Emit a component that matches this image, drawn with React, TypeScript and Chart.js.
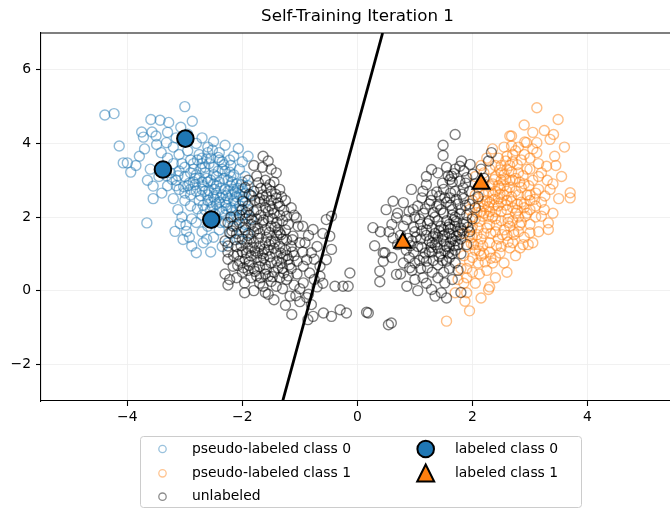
import React, { useEffect, useRef } from "react";
import { Chart, registerables } from "chart.js";
Chart.register(...registerables);

const chartTitle = "Self-Training Iteration 1";
const xTicks = [-4, -2, 0, 2, 4];
const yTicks = [-2, 0, 2, 4, 6];
const xRange = [-5.5, 5.435];
const yRange = [-3, 7];
const seriesNames = ["pseudo-labeled class 0", "pseudo-labeled class 1", "unlabeled", "labeled class 0", "labeled class 1"];

const labeled0 = [[-2.99, 4.13], [-3.38, 3.29], [-2.54, 1.93]];
const labeled1 = [[0.79, 1.3], [2.15, 2.9]];
const boundaryX = [-1.298, 0.439];
const boundaryY = [-3, 7];

const pseudo0 = [
  [-4.39,4.77],[-4.23,4.81],[-3.0,5.0],[-3.59,4.65],[-3.43,4.63],[-3.28,4.57],[-3.75,4.31],[-3.57,4.31],[-3.72,4.17],[-3.07,4.44],
  [-2.87,4.6],[-4.14,3.93],[-4.07,3.47],[-4.0,3.47],[-3.94,3.22],[-3.79,3.65],[-3.49,3.97],[-3.41,3.75],[-3.32,4.02],[-3.55,2.84],
  [-3.55,2.5],[-3.66,1.84],[-3.12,2.2],[-3.17,1.61],[-2.97,1.61],[-3.03,1.39],[-2.88,1.21],[-2.68,1.3],[-2.8,1.03],[-2.07,3.86],
  [-1.9,3.65],[-3.3,3.6],[-3.2,3.9],[-3.1,3.7],[-3.05,3.45],[-2.95,3.8],[-2.9,3.55],[-2.85,3.3],[-2.8,4.0],[-2.75,3.7],
  [-2.7,3.45],[-2.65,3.2],[-2.6,3.9],[-2.55,3.6],[-2.5,3.35],[-2.45,3.1],[-2.4,3.75],[-2.35,3.5],[-2.3,3.25],[-2.25,3.0],
  [-2.2,3.4],[-2.15,3.15],[-2.1,2.9],[-2.05,3.3],[-2.0,2.75],[-3.25,3.2],[-3.15,3.0],[-3.1,2.75],[-3.0,3.1],[-2.95,2.85],
  [-2.9,2.6],[-2.85,2.95],[-2.8,2.7],[-2.75,2.45],[-2.7,2.95],[-2.65,2.7],[-2.6,2.45],[-2.55,2.2],[-2.5,2.9],[-2.45,2.65],
  [-2.4,2.4],[-2.35,2.15],[-2.3,2.75],[-2.25,2.5],[-2.2,2.25],[-2.15,2.0],[-2.1,2.55],[-2.05,2.3],[-2.0,2.05],[-1.95,2.4],
  [-1.95,1.8],[-2.0,1.6],[-2.1,1.75],[-2.2,1.55],[-2.3,1.85],[-2.4,1.65],[-2.45,1.95],[-2.6,1.75],[-2.7,2.05],[-2.8,1.85],
  [-2.9,2.3],[-3.0,2.45],[-3.05,2.0],[-3.2,2.5],[-3.3,2.85],[-3.35,3.35],[-3.45,3.1],[-3.4,2.65],[-3.6,3.3],[-3.65,3.0],
  [-3.7,3.85],[-3.85,3.4],[-3.5,4.2],[-3.3,4.3],[-3.15,4.15],[-2.95,4.25],[-2.7,4.15],[-2.5,4.05],[-2.3,3.95],[-2.15,3.65],
  [-2.0,3.5],[-1.95,3.1],[-1.9,2.85],[-1.85,2.6],[-1.9,2.2],[-1.85,1.95],[-1.9,1.55],[-2.05,1.4],[-2.25,1.3],[-2.5,1.45],
  [-2.35,1.2],[-2.55,1.05],[-2.7,1.6],[-2.75,3.05],[-2.6,2.95],[-2.55,3.0],[-2.45,2.85],[-2.4,2.95],[-2.35,2.6],[-2.3,2.4],
  [-2.25,2.7],[-2.2,2.85],[-2.15,2.45],[-2.1,2.2],[-2.05,2.6],[-2.45,2.35],[-2.5,2.55],[-2.6,2.6],[-2.7,2.75],[-2.8,3.15],
  [-2.9,3.2],[-3.0,3.35],[-3.1,3.25],[-2.65,3.35],[-2.5,3.15],[-2.35,3.3],[-2.2,3.1],[-2.0,2.95],[-2.15,2.75],[-1.95,2.65],
  [-2.0,2.45],[-2.1,2.05],[-2.2,1.95],[-2.3,2.05],[-2.4,2.2],[-2.55,2.4],[-2.65,2.2],[-2.9,2.75],[-3.0,2.65],[-3.15,2.85],
  [-3.2,3.45],[-2.85,3.45],[-2.7,3.6],[-2.4,3.55],[-2.6,3.75],
  [-2.62,3.05],[-2.48,2.75],[-2.38,2.78],[-2.28,2.58],[-2.18,2.62],[-2.12,2.38],[-2.02,2.2],[-2.08,1.92],[-2.28,2.22],[-2.52,2.28],
  [-2.72,2.58],[-2.82,2.88],[-2.58,3.45],[-2.42,3.25],[-2.32,3.05],[-2.18,2.95],[-2.08,2.78],[-1.98,2.55],[-2.22,3.55],[-2.78,3.55],
  [-2.68,2.85],[-2.58,2.72],[-2.48,2.48],[-2.38,2.52],[-2.28,2.32],[-2.18,2.18],[-2.12,2.68],[-2.02,2.88],[-2.22,3.22],[-2.32,3.42],
  [-2.42,3.62],[-2.52,3.82],[-2.62,3.58],[-2.72,3.32],[-2.82,3.05],[-2.92,2.92],[-3.02,2.82],[-3.12,3.12],[-3.22,3.02],[-3.32,3.12],
  [-2.38,1.85],[-2.48,2.08],[-2.58,1.92],[-2.68,2.32],[-2.78,2.22],[-2.88,1.95],[-2.98,1.78],[-3.08,1.82],[-2.92,1.45],[-2.62,1.4]
];

const pseudo1 = [
  [2.68,4.2],[2.94,4.02],[2.68,3.93],[3.41,4.24],[3.35,4.11],[3.12,3.75],[3.29,3.38],[3.35,2.75],[3.26,2.57],[3.32,1.84],
  [3.32,1.66],[3.2,2.02],[3.0,1.57],[2.88,1.25],[2.97,1.25],[2.65,1.16],[2.28,0.03],[1.9,-0.06],[1.87,-0.29],[1.7,-0.06],
  [1.55,-0.83],[3.12,4.97],[3.49,4.65],[2.65,4.2],[2.91,4.04],[3.12,4.02],[3.43,3.65],[3.7,2.66],[3.7,2.52],[2.83,1.16],
  [2.0,2.0],[2.1,1.7],[2.2,2.1],[2.3,2.4],[2.4,2.7],[2.5,3.0],[2.6,3.3],[2.7,3.5],[2.8,3.2],[2.9,2.9],
  [3.0,2.6],[3.1,2.3],[2.95,2.1],[2.85,2.4],[2.75,2.7],[2.65,3.0],[2.55,2.6],[2.45,2.3],[2.35,2.0],[2.25,1.7],
  [2.15,1.4],[2.05,1.1],[1.95,0.8],[1.9,1.2],[1.95,1.5],[2.0,1.75],[2.1,2.3],[2.2,2.6],[2.3,2.85],[2.4,3.1],
  [2.5,3.4],[2.6,3.65],[2.45,3.6],[2.3,3.3],[2.2,2.9],[2.15,3.4],[2.35,3.85],[2.55,3.9],[2.75,3.8],[2.85,3.55],
  [2.95,3.3],[3.05,3.0],[3.15,2.75],[3.2,3.2],[3.0,3.6],[2.8,3.9],[3.05,4.3],[2.9,4.5],[3.25,4.35],[3.15,3.45],
  [3.1,2.0],[3.0,1.8],[2.8,1.6],[2.7,1.9],[2.6,2.2],[2.5,1.9],[2.4,1.6],[2.3,1.3],[2.2,1.0],[2.1,0.75],
  [2.0,0.5],[1.9,0.35],[1.8,0.6],[1.85,0.95],[2.25,0.55],[2.4,0.9],[2.5,1.2],[2.6,1.5],[2.7,1.3],[2.55,0.75],
  [2.4,0.35],[2.05,0.2],[1.75,0.3],[2.15,-0.2],[1.95,-0.55],[2.3,0.1],[2.6,0.5],[2.75,0.95],[2.9,1.45],[3.05,1.3],
  [3.15,1.6],[3.4,2.1],[3.5,2.5],[3.4,2.9],[3.55,3.1],[3.3,3.0],[3.45,3.4],[3.6,3.9],[2.1,2.5],[2.2,2.3],
  [2.3,2.15],[2.4,1.95],[2.5,2.15],[2.6,2.45],[2.7,2.25],[2.8,2.0],[2.9,2.25],[2.95,2.6],[2.85,2.8],[2.75,3.05],
  [2.65,2.8],[2.55,2.85],[2.45,2.5],[2.35,2.6],[2.25,2.45],[2.15,2.15],[2.05,1.95],[2.0,1.45],[2.1,1.25],[2.2,1.55],
  [2.3,1.8],[2.4,2.15],[2.5,2.4],[2.6,2.7],[2.7,3.0],[2.8,2.6],[2.9,2.35],[3.0,2.2],[2.35,2.9],[2.45,2.85],
  [2.55,3.15],[2.65,3.4],[2.9,3.7],[3.05,3.85],[2.2,3.2],[2.1,2.8],[2.05,2.6],[1.95,2.2],[1.85,1.55],[1.9,0.6],
  [2.0,0.9],[2.15,0.95],[2.3,1.05],[2.45,1.4],[2.55,1.65],[2.65,1.75],[2.75,2.1],[2.85,1.85],[3.0,2.45],[3.1,2.65],
  [3.2,2.4],[3.25,2.2],[3.15,3.1],[3.0,3.3],[2.7,3.7],[2.4,3.4],[2.25,3.6],[2.05,3.1],[2.0,2.45],
  [2.12,1.88],[2.28,2.02],[2.38,2.32],[2.48,2.62],[2.58,2.32],[2.68,2.55],[2.78,2.35],[2.18,1.22],[2.32,1.55],[2.42,1.78],
  [1.98,1.28],[2.08,1.52],[2.62,1.95],[2.72,1.6],[2.35,0.75],[1.85,0.2],[2.12,0.45],[2.48,1.02],[2.82,2.95],[2.5,3.2],
  [2.18,2.02],[2.28,2.28],[2.38,2.48],[2.48,2.78],[2.58,3.02],[2.68,3.22],[2.78,3.42],[2.88,3.12],[2.98,2.85],[3.08,2.48],
  [2.92,2.02],[2.82,1.78],[2.72,1.52],[2.62,1.32],[2.52,1.52],[2.42,1.22],[2.32,0.88],[2.22,0.78],[2.12,1.08],[2.02,1.25],
  [1.98,1.65],[2.08,2.12],[2.18,2.42],[2.28,2.68],[2.38,3.02],[2.48,3.28],[2.58,3.52],[2.68,2.42],[2.78,2.18],[2.62,1.85]
];

const unlabeled = [
  [-1.64,3.65],[-1.55,3.52],[-1.41,3.2],[-1.75,3.11],[-1.72,2.93],[-1.58,2.79],[-1.84,2.57],[-1.99,2.43],[-1.41,2.52],[-1.35,2.29],
  [-1.23,2.02],[-1.06,1.98],[-1.03,1.75],[-1.12,1.48],[-1.35,1.57],[-2.16,1.75],[-2.22,1.57],[-2.25,1.21],[-2.16,0.66],[-2.22,0.3],
  [-1.96,0.21],[-1.96,-0.06],[-1.64,0.12],[-1.55,0.39],[-1.41,0.12],[-1.23,0.3],[-1.17,-0.15],[-0.94,0.21],[-0.94,0.66],[-0.8,1.03],
  [-0.77,1.66],[-0.54,1.93],[-0.45,2.02],[-0.48,1.48],[-0.45,1.12],[-0.54,0.84],[-0.65,0.66],[-0.65,0.39],[-0.83,0.48],[-0.88,0.84],
  [-0.91,1.3],[-0.39,0.12],[-0.25,0.12],[-0.13,0.48],[-0.16,0.12],[-0.3,-0.52],[-0.19,-0.61],[-0.59,-0.61],[-0.45,-0.7],[-0.8,-0.38],
  [-0.77,-0.7],[-0.86,-0.79],[-1.14,-0.65],[0.19,-0.61],[-0.88,-0.19],[-1.07,-0.14],
  [-2.0,2.2],[-1.9,2.3],[-1.8,2.15],[-1.7,2.4],[-1.6,2.25],[-1.5,2.45],[-1.45,2.1],[-1.55,1.95],[-1.65,1.85],[-1.75,1.95],
  [-1.85,1.8],[-1.95,1.95],[-2.05,1.85],[-2.1,1.55],[-2.0,1.4],[-1.9,1.5],[-1.8,1.6],[-1.7,1.55],[-1.6,1.65],[-1.5,1.75],
  [-1.4,1.85],[-1.3,1.9],[-1.25,1.65],[-1.3,1.4],[-1.4,1.5],[-1.5,1.35],[-1.6,1.3],[-1.7,1.2],[-1.8,1.3],[-1.9,1.15],
  [-2.0,1.05],[-2.1,1.2],[-2.15,0.95],[-2.05,0.8],[-1.95,0.85],[-1.85,0.95],[-1.75,0.9],[-1.65,1.0],[-1.55,1.1],[-1.45,1.15],
  [-1.35,1.2],[-1.25,1.1],[-1.15,1.2],[-1.1,0.95],[-1.2,0.85],[-1.3,0.9],[-1.4,0.8],[-1.5,0.75],[-1.6,0.7],[-1.7,0.65],
  [-1.8,0.6],[-1.9,0.55],[-2.0,0.5],[-1.85,0.35],[-1.75,0.4],[-1.6,0.45],[-1.45,0.5],[-1.3,0.6],[-1.15,0.6],[-1.05,0.45],
  [-1.2,0.4],[-1.35,0.35],[-1.5,0.25],[-1.7,0.2],[-1.1,0.15],[-1.3,0.05],[-1.55,-0.1],[-1.0,0.05],[-0.85,-0.1],[-1.0,-0.3],
  [-1.25,-0.4],[-0.7,0.1],[-0.6,0.2],[-0.75,0.3],[-1.8,2.7],[-1.65,2.6],[-1.5,2.7],[-1.7,2.5],[-1.6,3.0],[-1.5,3.3],
  [-1.45,2.95],[-1.35,2.75],[-1.25,2.45],[-1.15,2.25],[-1.1,2.05],[-1.2,1.8],[-1.65,3.35],[-1.8,3.4],[-1.95,2.8],[-1.9,3.0],
  [-1.75,2.2],[-1.55,2.15],[-1.35,2.05],[-0.95,1.75],[-0.85,1.5],[-1.0,1.3],[-0.95,1.05],[-0.7,1.2],[-0.6,1.55],[-0.75,0.85],
  [-1.05,0.8],[-2.05,2.05],[-2.2,2.0],[-2.25,1.85],[-1.95,1.65],[-1.85,1.4],[-2.25,0.85],[-2.1,0.35],[-1.6,-0.05],[-1.45,-0.25],
  [-1.8,0.0],[-2.3,1.35],[-2.25,1.05],[-2.3,0.45],[-2.25,0.15],
  [-1.88,2.05],[-1.78,1.75],[-1.68,2.05],[-1.58,1.45],[-1.48,1.95],[-1.38,1.65],[-1.72,1.42],[-1.92,1.32],[-2.02,1.22],[-1.62,1.12],
  [-1.42,1.02],[-1.78,1.08],[-1.88,0.78],[-1.52,0.92],[-1.32,0.75],[-1.68,0.82],[-2.08,0.98],[-1.98,1.72],[-1.52,2.3],[-1.62,2.45],
  [-1.93,2.12],[-1.83,1.92],[-1.73,1.68],[-1.63,1.92],[-1.53,1.58],[-1.43,1.72],[-1.33,1.52],[-1.23,1.38],[-1.13,1.05],[-1.18,0.7],
  [-1.28,0.48],[-1.38,0.62],[-1.48,0.38],[-1.58,0.58],[-1.68,0.35],[-1.78,0.52],[-1.88,0.68],[-1.98,0.62],[-2.08,0.68],[-2.12,1.38],
  [-2.18,1.62],[-1.93,1.02],[-1.83,1.18],[-1.73,1.02],[-1.63,0.88],[-1.53,1.25],[-1.43,1.32],[-1.33,1.02],[-1.23,0.95],[-1.13,1.38],
  [-1.48,2.22],[-1.38,2.38],[-1.28,2.18],[-1.58,2.58],[-1.68,2.78],[-1.78,2.45],[-1.88,2.62],[-1.42,2.62],[-1.52,2.88],[-1.32,2.55],
  [1.7,4.24],[1.49,3.95],[1.49,3.67],[1.29,3.29],[2.33,3.75],[2.28,3.52],[1.81,3.52],[1.96,3.43],[1.64,3.11],[1.61,3.02],
  [1.78,2.97],[1.9,3.07],[2.01,3.16],[1.2,2.88],[0.94,2.75],[1.14,2.7],[0.62,2.43],[0.8,2.39],[0.97,2.2],[1.12,2.52],
  [1.43,2.57],[1.38,2.29],[1.61,2.52],[1.84,2.79],[0.68,1.98],[0.86,1.93],[0.27,1.71],[0.62,1.43],[0.3,1.22],[0.48,1.03],
  [0.39,0.53],[0.39,0.24],[0.68,0.44],[0.86,0.12],[0.91,0.62],[1.14,0.35],[1.29,0.03],[1.35,-0.15],[1.46,-0.06],[1.52,0.21],
  [0.16,-0.59],[0.54,-0.93],[0.59,-0.88],[0.45,1.03],
  [1.0,1.6],[1.1,1.8],[1.2,1.5],[1.3,1.7],[1.4,1.9],[1.5,2.1],[1.6,1.8],[1.7,2.0],[1.8,2.2],[1.75,1.6],
  [1.65,1.4],[1.55,1.2],[1.45,1.0],[1.35,1.25],[1.25,1.05],[1.15,0.9],[1.05,1.2],[0.95,1.35],[0.85,1.1],[0.75,1.5],
  [0.8,1.75],[0.9,0.9],[1.0,0.75],[1.1,0.6],[1.2,0.8],[1.3,0.5],[1.4,0.7],[1.5,0.5],[1.6,0.9],[1.7,1.1],
  [1.8,1.4],[1.85,1.8],[1.9,2.05],[1.95,2.35],[1.85,2.5],[1.75,2.35],[1.65,2.2],[1.55,2.4],[1.45,2.2],[1.35,2.0],
  [1.25,1.9],[1.15,2.1],[1.05,2.3],[1.0,2.0],[0.9,2.15],[0.7,2.1],[0.6,1.8],[0.55,1.6],[0.7,1.25],[0.6,0.9],
  [0.8,0.75],[0.75,0.45],[1.0,0.3],[1.2,0.2],[1.4,0.35],[1.6,0.6],[1.7,0.75],[1.8,1.0],[1.9,1.25],[1.95,1.6],
  [2.0,1.95],[2.05,2.25],[2.1,2.55],[1.95,2.7],[1.7,2.7],[1.5,2.75],[1.3,2.6],[1.25,2.35],[1.2,3.1],[1.4,3.2],
  [1.55,3.35],[1.7,3.3],[1.85,3.25],[2.15,3.3],[2.2,3.05],[2.05,2.9],[1.65,2.95],[1.5,1.65],[1.6,1.55],[1.7,1.75],
  [1.4,1.45],[1.3,1.3],[1.55,1.9],[1.65,2.05],[1.45,1.75],[1.35,1.55],[1.25,1.35],[1.1,1.4],[1.2,1.65],[1.3,1.05],
  [1.4,1.15],[1.5,1.35],[1.6,1.2],[1.7,1.35],[1.8,1.7],[1.9,1.85],[1.55,0.8],[1.65,1.0],[1.75,1.25],[0.95,0.55],
  [1.05,0.0],[1.55,-0.2],[1.65,0.3],[1.75,0.55],[0.5,2.2],[0.4,1.6],[0.45,0.8],[1.8,-0.05],
  [1.52,1.52],[1.62,1.68],[1.72,1.88],[1.58,1.02],[1.48,0.82],[1.68,1.22],[1.78,1.52],[1.42,1.62],[1.32,1.48],[1.62,2.32],
  [1.02,1.45],[1.12,1.62],[1.22,1.82],[1.32,2.12],[1.42,2.35],[1.52,2.52],[1.62,2.65],[1.72,2.48],[1.82,2.62],[1.88,2.32],
  [1.78,2.08],[1.68,1.92],[1.58,1.72],[1.48,1.48],[1.38,1.32],[1.28,1.18],[1.18,1.02],[1.08,0.82],[0.98,1.05],[0.88,1.42],
  [0.98,1.72],[1.08,1.95],[1.18,2.22],[1.28,2.45],[1.38,2.68],[1.48,2.92],[1.58,3.12],[1.68,3.18],[1.78,3.38],[1.88,2.92],
  [1.22,0.62],[1.32,0.82],[1.42,0.92],[1.52,1.08],[1.62,1.32],[1.72,1.48],[1.82,1.62],[1.92,1.72],[1.12,1.18],[0.92,1.22]
];

const fontFamily = "'DejaVu Sans', 'Liberation Sans', sans-serif";
const fmtTick = (v: number) => (v < 0 ? "\u2212" + Math.abs(v) : String(v));
const toPts = (a: number[][]) => a.map(([x, y]) => ({ x, y }));

export default function App() {
  const ref = useRef<HTMLCanvasElement>(null);
  useEffect(() => {
    const canvas = ref.current!;
    const decor = {
      id: "decor",
      afterDraw(chart: any) {
        const { ctx, chartArea } = chart;
        ctx.save();
        ctx.strokeStyle = "#000";
        ctx.lineWidth = 1.1;
        ctx.beginPath();
        ctx.moveTo(chartArea.left, chartArea.top);
        ctx.lineTo(chartArea.right, chartArea.top);
        ctx.stroke();
        ctx.fillStyle = "#000";
        ctx.font = `16.7px ${fontFamily}`;
        ctx.textAlign = "center";
        ctx.textBaseline = "middle";
        ctx.fillText(chartTitle, 357.5, 17);
        ctx.beginPath();
        ctx.roundRect(140.5, 436.5, 441, 71, 3);
        ctx.fillStyle = "rgba(255,255,255,0.8)";
        ctx.fill();
        ctx.strokeStyle = "#cccccc";
        ctx.lineWidth = 1;
        ctx.stroke();
        const rows = [449, 473.3, 496.7];
        const ringColors = ["rgba(31,119,180,0.45)", "rgba(255,127,14,0.45)", "rgba(0,0,0,0.45)"];
        for (let i = 0; i < 3; i++) {
          ctx.beginPath();
          ctx.arc(162.5, rows[i], 3.7, 0, Math.PI * 2);
          ctx.strokeStyle = ringColors[i];
          ctx.lineWidth = 1.3;
          ctx.stroke();
        }
        ctx.beginPath();
        ctx.arc(425.7, rows[0], 8.3, 0, Math.PI * 2);
        ctx.fillStyle = "#1f77b4";
        ctx.fill();
        ctx.strokeStyle = "#000";
        ctx.lineWidth = 2;
        ctx.stroke();
        ctx.beginPath();
        ctx.moveTo(425.7, 464.5);
        ctx.lineTo(417.2, 481.5);
        ctx.lineTo(434.2, 481.5);
        ctx.closePath();
        ctx.fillStyle = "#ff7f0e";
        ctx.fill();
        ctx.lineJoin = "miter";
        ctx.stroke();
        ctx.fillStyle = "#000";
        ctx.font = `13.9px ${fontFamily}`;
        ctx.textAlign = "left";
        ctx.textBaseline = "middle";
        ctx.fillText(seriesNames[0], 192, rows[0]);
        ctx.fillText(seriesNames[1], 192, rows[1]);
        ctx.fillText(seriesNames[2], 192, rows[2]);
        ctx.fillText(seriesNames[3], 455, rows[0]);
        ctx.fillText(seriesNames[4], 455, rows[1]);
        ctx.restore();
      },
    };

    const tickFont = { family: fontFamily, size: 13.9 };
    const ringStyle = (color: string, order: number) => ({
      pointStyle: "circle",
      pointRadius: 5,
      backgroundColor: "rgba(0,0,0,0)",
      borderColor: color,
      borderWidth: 1.4,
      order,
    });
    const chart = new Chart(canvas, {
      type: "scatter",
      data: {
        datasets: [
          {
            label: seriesNames[3],
            data: toPts(labeled0),
            pointStyle: "circle",
            pointRadius: 8.3,
            backgroundColor: "#1f77b4",
            borderColor: "#000",
            borderWidth: 2,
            order: 0,
          },
          {
            label: seriesNames[4],
            data: toPts(labeled1),
            pointStyle: "triangle",
            pointRadius: 9.8,
            backgroundColor: "#ff7f0e",
            borderColor: "#000",
            borderWidth: 2,
            order: 1,
          },
          {
            label: "boundary",
            data: boundaryX.map((x, i) => ({ x, y: boundaryY[i] })),
            showLine: true,
            borderColor: "#000",
            borderWidth: 2.8,
            pointRadius: 0,
            order: 2,
          },
          { label: seriesNames[2], data: toPts(unlabeled), ...ringStyle("rgba(0,0,0,0.5)", 3) },
          { label: seriesNames[1], data: toPts(pseudo1), ...ringStyle("rgba(255,127,14,0.5)", 4) },
          { label: seriesNames[0], data: toPts(pseudo0), ...ringStyle("rgba(31,119,180,0.5)", 5) },
        ],
      },
      options: {
        animation: false,
        responsive: false,
        events: [],
        layout: { autoPadding: false, padding: { top: 33, left: 0, right: 0, bottom: 0 } },
        plugins: { legend: { display: false }, title: { display: false }, tooltip: { enabled: false } },
        scales: {
          x: {
            type: "linear",
            min: xRange[0],
            max: xRange[1],
            afterBuildTicks: (s: any) => {
              s.ticks = xTicks.map((v) => ({ value: v }));
            },
            afterFit: (s: any) => {
              s.height = 109;
              s.paddingLeft = 0;
              s.paddingRight = 0;
            },
            grid: { color: "#eeeeee", lineWidth: 0.8, tickColor: "#000", tickLength: 5, tickWidth: 1.1 },
            border: { display: true, color: "#000", width: 1.1 },
            ticks: { font: tickFont, color: "#000", padding: 3, maxRotation: 0, autoSkip: false, callback: (v: any) => fmtTick(Number(v)) },
          },
          y: {
            type: "linear",
            min: yRange[0],
            max: yRange[1],
            afterBuildTicks: (s: any) => {
              s.ticks = yTicks.map((v) => ({ value: v }));
            },
            afterFit: (s: any) => {
              s.width = 41;
              s.paddingTop = 0;
              s.paddingBottom = 0;
            },
            grid: { color: "#eeeeee", lineWidth: 0.8, tickColor: "#000", tickLength: 5, tickWidth: 1.1 },
            border: { display: true, color: "#000", width: 1.1 },
            ticks: { font: tickFont, color: "#000", padding: 5, autoSkip: false, callback: (v: any) => fmtTick(Number(v)) },
          },
        },
      },
      plugins: [decor],
    } as any);
    return () => chart.destroy();
  }, []);
  return (
    <div style={{ position: "fixed", left: 0, top: 0, width: 670, height: 510, background: "#fff" }}>
      <canvas ref={ref} width={670} height={510} style={{ display: "block", width: 670, height: 510 }} />
    </div>
  );
}
